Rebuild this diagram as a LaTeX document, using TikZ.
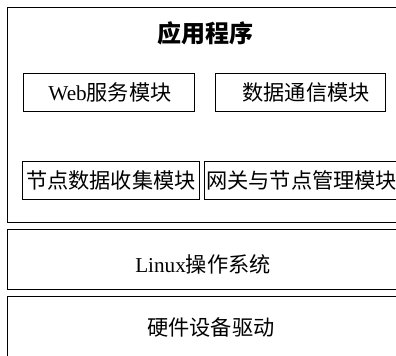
\documentclass[tikz,border=0pt]{standalone}
\usepackage{fontspec}
\setmainfont{Liberation Serif}
\newfontfamily\cjk{Noto Sans CJK SC}
\tikzset{
  outerbox/.style={draw=black, line width=1.3bp},
  innerbox/.style={draw=black, line width=1bp, inner sep=0pt},
  txt/.style={inner sep=0pt, font=\fontsize{21.2bp}{23bp}\selectfont},
  titletxt/.style={inner sep=0pt, font=\fontsize{24bp}{26bp}\selectfont\cjk\bfseries},
}
\begin{document}
\begin{tikzpicture}[x=1bp, y=-1bp]
\useasboundingbox (0,0) rectangle (396,356);
\fill[white] (0,0) rectangle (396,356);
\clip (0,0) rectangle (396,356);
% outer layers
\node[outerbox, minimum width=413bp, minimum height=215bp, anchor=north west] (app) at (7,7) {};
\node[outerbox, minimum width=413bp, minimum height=60bp, anchor=north west] (os) at (7,229) {};
\node[outerbox, minimum width=413bp, minimum height=84bp, anchor=north west] (hw) at (7,296) {};
% labels of the layers
\node[titletxt] (apptitle) at (205,33) {应用程序};
\node[txt] (ostxt) at (203,264) {Linux{\cjk 操作系统}};
\node[txt] (hwtxt) at (211,327) {\cjk 硬件设备驱动};
% modules
\node[innerbox, minimum width=171bp, minimum height=38bp, anchor=north west] (web) at (23,73) {};
\node[txt] (webtxt) at (110,92) {Web{\cjk 服务模块}};
\node[innerbox, minimum width=170bp, minimum height=38bp, anchor=north west] (comm) at (215,73) {};
\node[txt] (commtxt) at (306,92) {\cjk 数据通信模块};
\node[innerbox, minimum width=177bp, minimum height=38bp, anchor=north west] (collect) at (22,161) {};
\node[txt] (collecttxt) at (111,180) {\cjk 节点数据收集模块};
\node[innerbox, minimum width=220bp, minimum height=38bp, anchor=north west] (gw) at (204,161) {};
\node[txt, anchor=west] (gwtxt) at (206,180) {\cjk 网关与节点管理模块};
\end{tikzpicture}
\end{document}
